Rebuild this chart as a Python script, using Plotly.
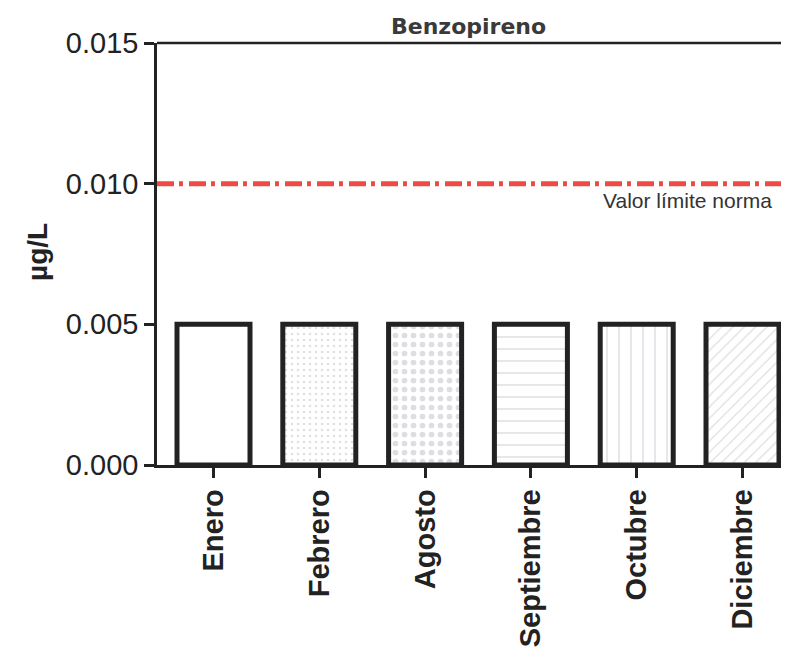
import plotly.graph_objects as go

months = ["Enero", "Febrero", "Agosto", "Septiembre", "Octubre", "Diciembre"]
values = [0.005, 0.005, 0.005, 0.005, 0.005, 0.005]
patterns = ["", ".", ".", "-", "|", "/"]
pattern_sizes = [8, 6, 9, 12, 12, 8]
pattern_solidity = [0.1, 0.12, 0.32, 0.12, 0.12, 0.15]
limit_value = 0.010
limit_label = "Valor límite norma"
y_ticks = [0.000, 0.005, 0.010, 0.015]
y_ticktext = ["0.000", "0.005", "0.010", "0.015"]

# the page body adds an 8px offset; figure coordinates below compensate for it
L, T, H = 149, 35, 422
W = 640

fig = go.Figure()
fig.add_trace(go.Bar(
    x=months, y=values,
    marker=dict(color="white", line=dict(color="#222222", width=5),
                pattern=dict(shape=patterns, fgcolor="#bdbdc6", size=pattern_sizes,
                             solidity=pattern_solidity)),
    width=0.69,
))

fig.add_shape(type="line", xref="paper", yref="y", x0=0, x1=1, y0=limit_value, y1=limit_value,
              line=dict(color="#ee4b45", width=5, dash="17px,5px,4px,6px"))
fig.add_annotation(xref="paper", yref="y", x=(766 - L) / W, y=limit_value, text=limit_label,
                   showarrow=False, xanchor="right", yanchor="top", yshift=-3,
                   font=dict(family="Liberation Sans Narrow, Liberation Sans", size=21, color="#333333"))
# title
fig.add_annotation(xref="paper", yref="paper", x=(460 - L) / W, y=1, yshift=2,
                   text="<b>Benzopireno</b>", showarrow=False, xanchor="center", yanchor="bottom",
                   font=dict(family="DejaVu Sans", size=22, color="#3a3a3a"))
# y axis title
fig.add_annotation(xref="paper", yref="paper", x=(30 - L) / W, y=(T + H - 244) / H,
                   text="<b>µg/L</b>", showarrow=False, textangle=-90,
                   xanchor="center", yanchor="middle",
                   font=dict(family="Liberation Sans", size=28, color="#222222"))

fig.update_layout(
    width=789, height=659,
    margin=dict(l=L, r=789 - L - W, t=T, b=659 - T - H, autoexpand=False),
    plot_bgcolor="white", paper_bgcolor="white",
    showlegend=False,
    font=dict(family="Liberation Sans", color="#222222"),
)
fig.update_yaxes(range=[0, 0.015], tickvals=y_ticks, ticktext=y_ticktext,
                 showline=True, linecolor="#222222", linewidth=2.5, mirror=False,
                 ticks="outside", ticklen=10, tickwidth=2.5, tickcolor="#222222",
                 showgrid=False, zeroline=False, automargin=False,
                 tickfont=dict(size=29, family="Liberation Sans", color="#222222"))
fig.update_xaxes(range=[-0.534, 5.515], showline=True, linecolor="#222222", linewidth=2.5,
                 ticks="outside", ticklen=10, tickwidth=2.5, tickcolor="#222222",
                 tickangle=-90, showgrid=False, automargin=False,
                 tickfont=dict(size=29, family="Liberation Sans", color="#222222"),
                 ticktext=["<b>" + m + "</b>" for m in months], tickvals=months)
# top border line
fig.add_shape(type="line", xref="paper", yref="paper", x0=0, x1=1, y0=1, y1=1,
              line=dict(color="#222222", width=2.5))

fig.write_html("out.html")
